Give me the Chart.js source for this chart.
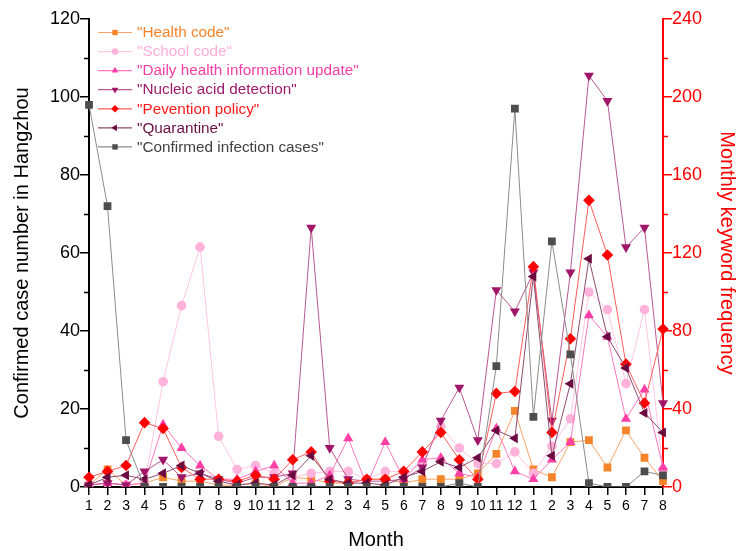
<!DOCTYPE html>
<html lang="en">

<head>
    <meta charset="UTF-8" />
    <title>Keyword frequency and confirmed cases in Hangzhou</title>
    <script src="https://cdn.jsdelivr.net/npm/chart.js"></script>
    <style>
        html, body { margin: 0; padding: 0; background: #fff; }
        #wrap { width: 750px; height: 551px; }
    </style>
</head>

<body>
    <div id="wrap"><canvas id="chart"></canvas></div>

    <script>
        // Months: three years, the last one runs to August
        const months = ["1", "2", "3", "4", "5", "6", "7", "8", "9", "10", "11", "12",
            "1", "2", "3", "4", "5", "6", "7", "8", "9", "10", "11", "12",
            "1", "2", "3", "4", "5", "6", "7", "8"];

        // keyword frequency (right axis)
        const healthCode = [1, 9, 1, 2, 5, 3, 3, 1, 1, 2, 0, 5, 4, 2, 2, 4, 4, 2, 4, 4, 4, 7, 17, 39, 9, 5, 23, 24, 10, 29, 15, 3];
        const schoolCode = [1, 2, 1, 2, 54, 93, 123, 26, 9, 11, 7, 5, 7, 8, 8, 4, 8, 8, 12, 31, 20, 12, 12, 18, 7, 21, 35, 100, 91, 53, 91, 9];
        const dailyHealthUpdate = [1, 2, 1, 2, 32, 20, 11, 4, 4, 8, 11, 2, 2, 6, 25, 1, 23, 4, 14, 15, 7, 5, 30, 8, 4, 14, 23, 88, 77, 35, 50, 10];
        const nucleicAcid = [1, 2, 1, 8, 14, 5, 7, 4, 2, 5, 5, 7, 133, 20, 4, 3, 3, 4, 10, 34, 51, 24, 101, 90, 110, 34, 110, 211, 198, 123, 133, 43];
        const preventionPolicy = [5, 8, 11, 33, 30, 10, 4, 4, 3, 6, 4, 14, 18, 3, 2, 4, 4, 8, 18, 28, 14, 4, 48, 49, 113, 28, 76, 147, 119, 63, 43, 81];
        const quarantine = [1, 5, 6, 4, 7, 11, 7, 3, 1, 2, 1, 6, 16, 4, 2, 2, 1, 5, 8, 13, 10, 15, 29, 25, 108, 16, 53, 117, 77, 61, 38, 28];

        // confirmed cases (left axis)
        const confirmedCases = [98, 72, 12, 0, 0, 0, 0, 0, 0, 0, 0, 0, 0, 0, 0, 0, 0, 0, 0, 0, 1, 0, 31, 97, 18, 63, 34, 1, 0, 0, 4, 3];

        const leftTicks = [0, 20, 40, 60, 80, 100, 120];
        const leftMinor = [10, 30, 50, 70, 90, 110];
        const rightTicks = [0, 40, 80, 120, 160, 200, 240];
        const rightMinor = [20, 60, 100, 140, 180, 220];

        const FONT = '"Liberation Sans", Arial, sans-serif';

        function series(label, data, color, lineColor, textColor, style, rotation, radius, axis) {
            return {
                label: label,
                data: data,
                borderColor: lineColor,
                backgroundColor: color,
                pointBackgroundColor: color,
                pointBorderColor: color,
                pointBorderWidth: 0,
                pointStyle: style,
                pointRotation: rotation,
                pointRadius: radius,
                borderWidth: 1,
                tension: 0,
                yAxisID: axis,
                legendColor: textColor,
            };
        }

        const datasets = [
            series('"Health code"', healthCode, "#F5842B", "#F7A468", "#F5842B", "rect", 0, 5.5, "y1"),
            series('"School code"', schoolCode, "#FFB3DA", "#FFC6E4", "#FFAFD8", "circle", 0, 4.8, "y1"),
            series('"Daily health information update"', dailyHealthUpdate, "#FF3FA8", "#FF78BE", "#F23FA6", "triangle", 0, 5.8, "y1"),
            series('"Nucleic acid detection"', nucleicAcid, "#A0176A", "#BA5892", "#9C1A6A", "triangle", 180, 5.8, "y1"),
            series('"Pevention policy"', preventionPolicy, "#FF0000", "#FF5C5C", "#FF1A1A", "rectRot", 0, 5.8, "y1"),
            series('"Quarantine"', quarantine, "#6A0A40", "#8C4C70", "#6A1040", "triangle", -90, 5.8, "y1"),
            series('"Confirmed infection cases"', confirmedCases, "#4D4D4D", "#8C8C8C", "#404040", "rect", 0, 5.5, "y"),
        ];
        // later series sit on top, like the original
        datasets.forEach((d, i) => { d.order = datasets.length - i; });

        // legend with line + marker, text in series colour
        const lineLegend = {
            id: "lineLegend",
            afterDraw(chart) {
                const ctx = chart.ctx;
                const area = chart.chartArea;
                ctx.save();
                ctx.font = "15.3px " + FONT;
                ctx.textBaseline = "middle";
                ctx.textAlign = "left";
                chart.data.datasets.forEach((ds, i) => {
                    const x = area.left + 9;
                    const y = area.top + 13.5 + i * 19.07;
                    ctx.strokeStyle = ds.borderColor;
                    ctx.lineWidth = 1.2;
                    ctx.beginPath();
                    ctx.moveTo(x, y);
                    ctx.lineTo(x + 34, y);
                    ctx.stroke();
                    ctx.fillStyle = ds.pointBackgroundColor;
                    ctx.strokeStyle = ds.pointBorderColor;
                    Chart.helpers.drawPoint(ctx, {
                        pointStyle: ds.pointStyle,
                        rotation: ds.pointRotation,
                        radius: ds.pointStyle === "circle" ? 3.2 : 3.8,
                        borderWidth: 0,
                    }, x + 17, y);
                    ctx.fillStyle = ds.legendColor;
                    ctx.fillText(ds.label, x + 39, y + 0.5);
                });
                ctx.restore();
            },
        };

        // short minor ticks on both y axes
        const minorTicks = {
            id: "minorTicks",
            afterDraw(chart) {
                const ctx = chart.ctx;
                const { left, right } = chart.chartArea;
                ctx.save();
                ctx.lineWidth = 1.5;
                ctx.strokeStyle = "#000";
                leftMinor.forEach(v => {
                    const y = Math.round(chart.scales.y.getPixelForValue(v)) + 0.5;
                    ctx.beginPath(); ctx.moveTo(left - 5, y); ctx.lineTo(left, y); ctx.stroke();
                });
                ctx.strokeStyle = "#FF0000";
                rightMinor.forEach(v => {
                    const y = Math.round(chart.scales.y1.getPixelForValue(v)) + 0.5;
                    ctx.beginPath(); ctx.moveTo(right, y); ctx.lineTo(right + 5, y); ctx.stroke();
                });
                ctx.restore();
            },
        };

        Chart.defaults.font.family = FONT;
        Chart.defaults.color = "#000";

        new Chart(document.getElementById("chart"), {
            type: "line",
            data: { labels: months, datasets: datasets },
            plugins: [lineLegend, minorTicks],
            options: {
                responsive: true,
                maintainAspectRatio: false,
                animation: false,
                layout: { padding: { top: 19, left: 0, right: 0, bottom: 0 } },
                plugins: {
                    legend: { display: false },
                    tooltip: { enabled: false },
                },
                scales: {
                    x: {
                        type: "category",
                        offset: false,
                        grid: { display: true, drawOnChartArea: false, drawTicks: true, tickLength: 8, color: "#000", lineWidth: 1.5 },
                        border: { display: true, color: "#000", width: 2 },
                        ticks: { color: "#000", font: { size: 14 }, padding: 3, autoSkip: false, maxRotation: 0 },
                        title: { display: true, text: "Month", color: "#000", font: { size: 20 }, padding: { top: 0, bottom: -1 } },
                        afterFit: s => { s.height = 64; },
                    },
                    y: {
                        position: "left",
                        min: 0,
                        max: 120,
                        afterBuildTicks: s => { s.ticks = leftTicks.map(v => ({ value: v })); },
                        grid: { display: true, drawOnChartArea: false, drawTicks: true, tickLength: 9, color: "#000", lineWidth: 1.5 },
                        border: { display: true, color: "#000", width: 2 },
                        ticks: { color: "#000", font: { size: 18 }, padding: 0 },
                        title: { display: true, text: "Confirmed case number in Hangzhou", color: "#000", font: { size: 20 }, padding: { top: 10, bottom: 0 } },
                        afterFit: s => { s.width = 89; },
                    },
                    y1: {
                        position: "right",
                        min: 0,
                        max: 240,
                        afterBuildTicks: s => { s.ticks = rightTicks.map(v => ({ value: v })); },
                        grid: { display: true, drawOnChartArea: false, drawTicks: true, tickLength: 9, color: "#FF0000", lineWidth: 1.5 },
                        border: { display: true, color: "#FF0000", width: 2 },
                        ticks: { color: "#FF0000", font: { size: 18 }, padding: 0 },
                        title: { display: true, text: "Monthly keyword frequency", color: "#FF0000", font: { size: 20 }, padding: { top: 11, bottom: 0 } },
                        afterFit: s => { s.width = 87; },
                    },
                },
            },
        });
    </script>
</body>

</html>
